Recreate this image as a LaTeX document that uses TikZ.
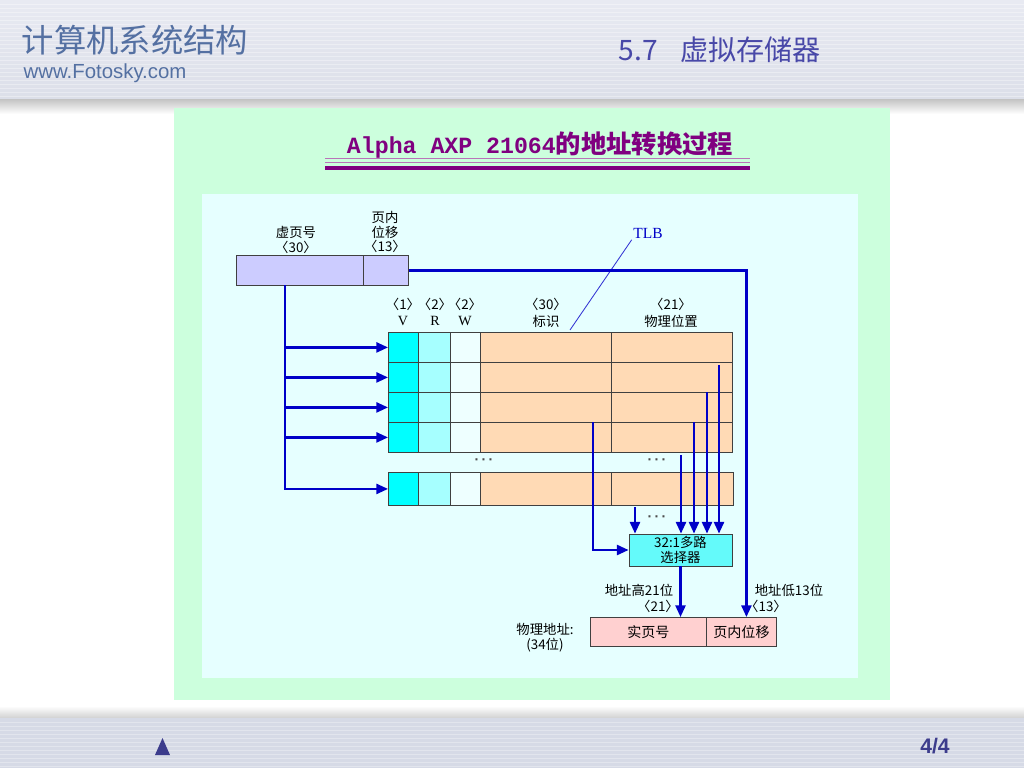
\documentclass[tikz,border=0pt]{standalone}
\usepackage{fontspec}
\setmainfont{Liberation Sans}
\newfontfamily\cjk{Noto Sans CJK SC}
\newfontfamily\monofnt{Liberation Mono}
\newfontfamily\seriffnt{Liberation Serif}
\usetikzlibrary{arrows.meta,positioning,calc}

\definecolor{hdtop}{RGB}{232,234,242}
\definecolor{hdbot}{RGB}{220,223,233}
\definecolor{ftcol}{RGB}{214,218,230}
\definecolor{hdblue}{RGB}{84,112,162}
\definecolor{secblue}{RGB}{72,72,168}
\definecolor{navy}{RGB}{60,60,140}
\definecolor{panelgreen}{RGB}{204,255,221}
\definecolor{panelcyan}{RGB}{230,255,255}
\definecolor{titlepurple}{RGB}{128,0,128}
\definecolor{lav}{RGB}{204,204,255}
\definecolor{vcol}{RGB}{0,255,255}
\definecolor{rcol}{RGB}{166,255,255}
\definecolor{wcol}{RGB}{238,255,255}
\definecolor{peach}{RGB}{255,218,181}
\definecolor{muxcyan}{RGB}{100,250,250}
\definecolor{pinkc}{RGB}{255,208,208}
\definecolor{busblue}{RGB}{0,0,200}

\begin{document}
\begin{tikzpicture}[
  x=0.025cm, y=-0.025cm,
  cell/.style={draw=black!75, line width=0.6pt, anchor=north west, inner sep=0pt, minimum height=0.75cm},
  lbl/.style={font=\cjk\fontsize{9.5}{10.6}\selectfont, inner sep=0pt, align=center},
  dotsl/.style={font=\bfseries\fontsize{10}{11}\selectfont, text=black!70, inner sep=0pt},
  bus/.style={draw=busblue, line width=1.6pt},
  busarrow/.style={bus, -{Triangle[length=2.9mm,width=2.5mm]}}
]
\useasboundingbox (0,0) rectangle (1024,768);
\fill[white] (0,0) rectangle (1024,768);

% header and footer bands
\shade[top color=hdtop, bottom color=hdbot] (0,0) rectangle (1024,100);
\foreach \s in {4,8,...,96} \draw[white, opacity=0.35, line width=0.4pt] (0,\s) -- (1024,\s);
\shade[top color=black!22, bottom color=white] (0,100) rectangle (1024,114);
\shade[top color=white, bottom color=black!18] (0,706) rectangle (1024,718);
\fill[ftcol] (0,718) rectangle (1024,768);
\foreach \s in {722,726,...,766} \draw[white, opacity=0.3, line width=0.4pt] (0,\s) -- (1024,\s);

\node[text=hdblue, font=\cjk\fontsize{23}{24}\selectfont] (course) at (135,40) {计算机系统结构};
\node[text=hdblue, font=\fontsize{14.5}{15}\selectfont] (site) at (105,73) {www.Fotosky.com};
\node[text=secblue, font=\cjk\fontsize{20}{22}\selectfont] (sec) at (720,50) {5.7\hspace{0.8em}虚拟存储器};
\fill[navy] (155,755) -- (162.5,738) -- (170,755) -- cycle;
\node[text=navy, font=\bfseries\fontsize{15}{16}\selectfont] (pg) at (935,746) {4/4};

% panels
\fill[panelgreen] (174,108) rectangle (890,700);
\fill[panelcyan] (202,194) rectangle (858,678);

% title
\node[text=titlepurple] (title) at (540,145)
  {{\monofnt\bfseries\fontsize{16.5}{18}\selectfont Alpha AXP 21064}{\cjk\bfseries\fontsize{18}{20}\selectfont 的地址转换过程}};
\draw[titlepurple!55, line width=0.7pt] (325,158) -- (750,158);
\draw[titlepurple!55, line width=0.7pt] (325,162.5) -- (750,162.5);
\draw[titlepurple, line width=2.4pt] (325,168) -- (750,168);

% virtual address
\node[cell, fill=lav, minimum width=3.175cm] (vpn) at (236,255) {};
\node[cell, fill=lav, minimum width=1.125cm] (voff) at (363,255) {};
\node[lbl] (vpnlbl) at (296,240) {虚页号\\〈30〉};
\node[lbl] (vofflbl) at (385,232) {页内\\位移\\〈13〉};

% TLB columns
\node[lbl] (hv) at (403,304) {〈1〉};
\node[lbl] (hr) at (435,304) {〈2〉};
\node[lbl] (hw) at (465,304) {〈2〉};
\node[lbl] (htag) at (546,304) {〈30〉};
\node[lbl] (hphys) at (671,304) {〈21〉};
\node[lbl, font=\seriffnt\fontsize{10}{11}\selectfont] (nv) at (403,321) {V};
\node[lbl, font=\seriffnt\fontsize{10}{11}\selectfont] (nr) at (435,321) {R};
\node[lbl, font=\seriffnt\fontsize{10}{11}\selectfont] (nw) at (465,321) {W};
\node[lbl] (ntag) at (546,321) {标识};
\node[lbl] (nphys) at (671,321) {物理位置};

\foreach \r/\y in {1/332,2/362,3/392,4/422} {
  \node[cell, fill=vcol, minimum width=0.75cm] (v\r) at (388,\y) {};
  \node[cell, fill=rcol, minimum width=0.8cm] (r\r) at (418,\y) {};
  \node[cell, fill=wcol, minimum width=0.75cm] (w\r) at (450,\y) {};
  \node[cell, fill=peach, minimum width=3.275cm] (tag\r) at (480,\y) {};
  \node[cell, fill=peach, minimum width=3.025cm] (ph\r) at (611,\y) {};
}
\node[cell, fill=vcol, minimum width=0.75cm, minimum height=0.825cm] (v5) at (388,472) {};
\node[cell, fill=rcol, minimum width=0.8cm, minimum height=0.825cm] (r5) at (418,472) {};
\node[cell, fill=wcol, minimum width=0.75cm, minimum height=0.825cm] (w5) at (450,472) {};
\node[cell, fill=peach, minimum width=3.275cm, minimum height=0.825cm] (tag5) at (480,472) {};
\node[cell, fill=peach, minimum width=3.05cm, minimum height=0.825cm] (ph5) at (611,472) {};

\node[dotsl] (dots1) at (484,462) {·\,·\,·};
\node[dotsl] (dots2) at (657,462) {·\,·\,·};

\node[text=busblue, font=\seriffnt\fontsize{11}{12}\selectfont, inner sep=1pt] (tlbl) at (648,233) {TLB};
\coordinate (tlbend) at (570,330);
\draw[busblue!80, line width=0.6pt] (tlbl.south west) -- (tlbend);

% index bus
\coordinate (b0) at (285,285);
\foreach \r in {1,...,5} \draw[busarrow] (b0) |- (v\r.west);

% multiplexer
\node[draw=black!75, line width=0.6pt, fill=muxcyan, minimum width=2.575cm, minimum height=0.8cm,
  inner sep=0pt, lbl] (mux) at (680.5,550) {32:1多路\\选择器};
\coordinate (t1) at (593,422);
\draw[busarrow] (t1) |- (mux.west);
\foreach \x/\y in {635/507, 681/455, 694/422, 707/392, 719/365} {
  \coordinate (m\x) at (\x,\y);
  \draw[busarrow] (m\x) -- (m\x |- mux.north);
}
\node[dotsl] (dots3) at (657,519) {·\,·\,·};

% physical address
\node[cell, fill=pinkc, minimum width=2.9cm, minimum height=0.725cm, font=\cjk\fontsize{10}{11}\selectfont] (ppn) at (590,617) {实页号};
\node[cell, fill=pinkc, minimum width=1.75cm, minimum height=0.725cm, font=\cjk\fontsize{10}{11}\selectfont] (poff) at (706,617) {页内位移};
\node[lbl] (palbl) at (545,638) {物理地址:\\(34位)};

\draw[busarrow] (mux.south) -- (mux.south |- ppn.north);
\draw[busarrow] (voff.east) -| ([xshift=0.125cm]poff.north);

\node[lbl] (hilbl) at (639,590) {地址高21位};
\node[lbl] (hiw) at (658,606) {〈21〉};
\node[lbl] (lolbl) at (789,590) {地址低13位};
\node[lbl] (low) at (766,606) {〈13〉};
\end{tikzpicture}
\end{document}
